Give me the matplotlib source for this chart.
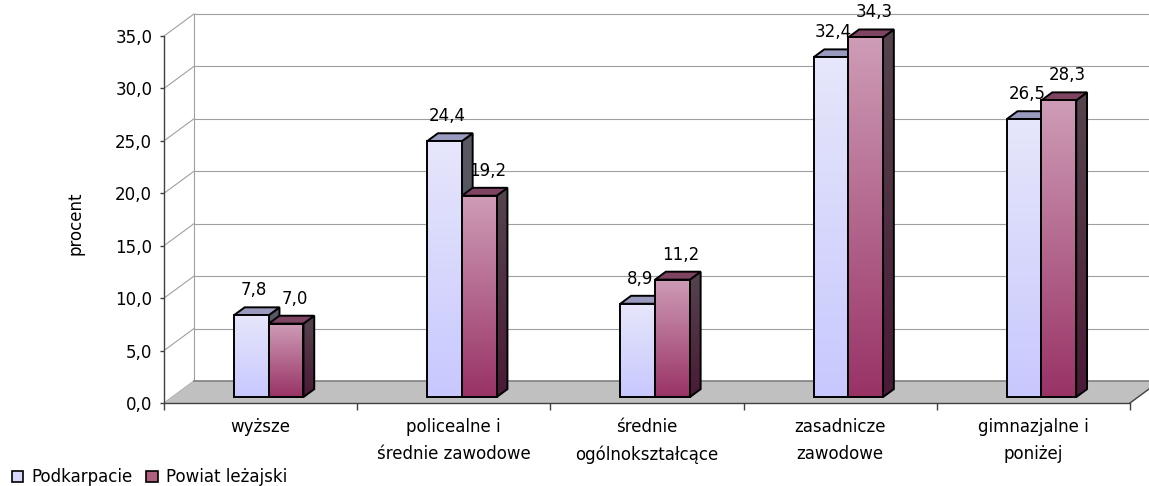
import numpy as np
import matplotlib
matplotlib.use("Agg")
import matplotlib.pyplot as plt
from matplotlib.patches import Polygon, Patch
from matplotlib.colors import to_rgb

# data
categories = ["wyższe", "policealne i\nśrednie zawodowe", "średnie\nogólnokształcące",
              "zasadnicze\nzawodowe", "gimnazjalne i\nponiżej"]
podkarpacie = [7.8, 24.4, 8.9, 32.4, 26.5]
powiat = [7.0, 19.2, 11.2, 34.3, 28.3]
series_names = ["Podkarpacie", "Powiat leżajski"]
yticks = np.arange(0, 36, 5)

W, H = 1149, 486
fig = plt.figure(figsize=(W / 100, H / 100), dpi=100)

# pseudo-3d layout: depth offset in data units
DX, DY = 0.155, 2.1
D0, D1 = 0.27, 0.63
BAR_W = 0.18
cat_px = 193.2
val_px = 10.486
xmin, xmax = -0.5, 4.9
ymin, ymax = 0, 38

ax = fig.add_axes([164 / W, 83 / H, (xmax - xmin) * cat_px / W, (ymax - ymin) * val_px / H])
ax.set_facecolor("none")


def P(x, v, d):
    return (x + d * DX, v + d * DY)


def grad_face(verts, c_top, c_bot, z):
    verts = np.array(verts)
    poly = Polygon(verts, closed=True, transform=ax.transData)
    n = 64
    t = np.linspace(0, 1, n)[:, None]
    img = (1 - t) * np.array(to_rgb(c_top)) + t * np.array(to_rgb(c_bot))
    img = img[:, None, :]
    im = ax.imshow(img, extent=(verts[:, 0].min(), verts[:, 0].max(),
                                verts[:, 1].min(), verts[:, 1].max()),
                   aspect="auto", origin="upper", interpolation="bilinear", zorder=z)
    im.set_clip_path(poly)
    ax.add_patch(Polygon(verts, closed=True, fill=False, edgecolor="black",
                         linewidth=1.4, zorder=z + 0.01, joinstyle="miter"))


# floor
floor = [P(-0.5, 0, 0), P(4.5, 0, 0), P(4.5, 0, 1), P(-0.5, 0, 1)]
ax.add_patch(Polygon(floor, closed=True, facecolor="#C0C0C0", edgecolor="none", zorder=1))
ax.plot(*zip(P(-0.5, 0, 1), P(4.5 + 0.5, 0, 1)), color="#808080", lw=1.2, zorder=1.5)
ax.plot(*zip(P(4.5, 0, 0), P(4.5, 0, 1)), color="#404040", lw=1.0, zorder=1.5)

# walls and gridlines
for v in yticks:
    ax.plot(*zip(P(-0.5, v, 0), P(-0.5, v, 1)), color="#A0A0A0", lw=0.8, zorder=0.5)
    if v > 0:
        ax.plot(*zip(P(-0.5, v, 1), P(5.0, v, 1)), color="#A0A0A0", lw=0.8, zorder=0.5)
ax.plot(*zip(P(-0.5, 0, 1), P(-0.5, 35, 1)), color="#A0A0A0", lw=0.8, zorder=0.5)

# bars
styles = [
    dict(front=("#E6E6FB", "#C8C8FF"), side=("#5A5A66", "#4A4A58"), top="#9A9ABE"),
    dict(front=("#CE9CB6", "#993366"), side=("#55444E", "#4A1A36"), top="#7E4462"),
]
for i in range(len(categories)):
    for s, vals in enumerate([podkarpacie, powiat]):
        v = vals[i]
        st = styles[s]
        xl = i - BAR_W + s * BAR_W
        xr = xl + BAR_W
        z = 3 + i * 2 + s
        side = [P(xr, 0, D0), P(xr, v, D0), P(xr, v, D1), P(xr, 0, D1)]
        grad_face(side, st["side"][0], st["side"][1], z)
        top = [P(xl, v, D0), P(xr, v, D0), P(xr, v, D1), P(xl, v, D1)]
        ax.add_patch(Polygon(top, closed=True, facecolor=st["top"], edgecolor="black",
                             linewidth=1.4, zorder=z + 0.02, joinstyle="miter"))
        front = [P(xl, 0, D0), P(xr, 0, D0), P(xr, v, D0), P(xl, v, D0)]
        grad_face(front, st["front"][0], st["front"][1], z + 0.03)
        lx, ly = P((xl + xr) / 2, v, D0)
        ax.annotate(f"{v:.1f}".replace(".", ","), (lx, ly), xytext=(2 + 4 * s, 18),
                    textcoords="offset points", ha="center", va="center",
                    fontsize=12, color="black", zorder=30)

# axes
ax.set_xlim(xmin, xmax)
ax.set_ylim(ymin, ymax)
for side in ["top", "right"]:
    ax.spines[side].set_visible(False)
ax.spines["left"].set_bounds(0, 35)
ax.spines["bottom"].set_bounds(-0.5, 4.5)
for side in ["left", "bottom"]:
    ax.spines[side].set_color("#404040")
    ax.spines[side].set_linewidth(1.0)
    ax.spines[side].set_zorder(2)
ax.set_yticks(yticks)
ax.set_yticklabels([f"{v:.1f}".replace(".", ",") for v in yticks], fontsize=12)
ax.tick_params(axis="y", direction="out", length=3, width=1, color="#404040", pad=5.5)
ax.set_xticks(np.arange(-0.5, 5, 1))
ax.set_xticklabels([])
ax.tick_params(axis="x", which="major", direction="out", length=5, width=1, color="#404040")
ax.set_xticks(np.arange(len(categories)), minor=True)
ax.set_xticklabels(categories, minor=True, fontsize=12, linespacing=1.65)
ax.tick_params(axis="x", which="minor", length=0, pad=11)

fig.text(75 / W, 1 - 223 / H, "procent", rotation=90, ha="center", va="center", fontsize=12)

handles = [Patch(facecolor="#D8D8FC", edgecolor="black", linewidth=1.2),
           Patch(facecolor="#B0607F", edgecolor="black", linewidth=1.2)]
fig.legend(handles, series_names, loc="lower left", bbox_to_anchor=(0.0, -0.025),
           ncol=2, frameon=False, fontsize=12, handlelength=0.7, handleheight=0.7,
           handletextpad=0.5, columnspacing=0.8, borderpad=0.2)

fig.savefig("out.png", dpi=100)
